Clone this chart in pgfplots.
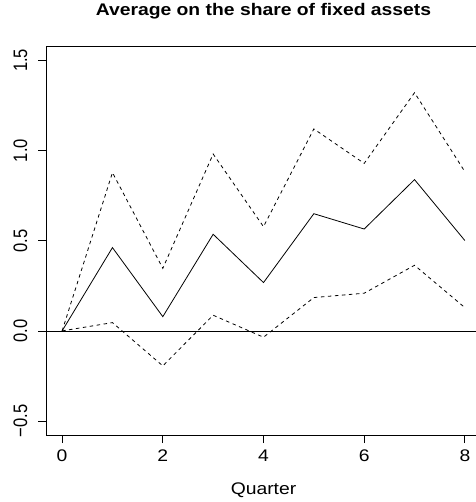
\documentclass[border=0pt]{standalone}
\usepackage{pgfplots}
\pgfplotsset{compat=1.18}
\usepackage{fontspec}
\setmainfont{Liberation Sans}
\newfontfamily\hfont[FakeStretch=1.15]{Liberation Sans}
\newfontfamily\vfont[FakeStretch=0.85]{Liberation Sans}
\begin{document}
\hfont\fontsize{16.8bp}{20bp}\selectfont
\begin{tikzpicture}
\useasboundingbox (0,0) rectangle (476bp,502bp);
\clip (0,0) rectangle (476bp,502bp);
\begin{axis}[
  at={(46bp,66.5bp)}, anchor=south west,
  scale only axis, width=435bp, height=389.5bp,
  xmin=-0.32, xmax=8.32, ymin=-0.58, ymax=1.58,
  xtick={0,2,4,6,8}, xticklabels={0,2,4,6,8},
  ytick={-0.5,0,0.5,1,1.5}, yticklabels={−0.5,0.0,0.5,1.0,1.5},
  tick align=outside, major tick length=7.5bp,
  tick style={black, line width=0.8bp},
  axis line style={line width=0.8bp},
  xtick pos=left, ytick pos=left,
  yticklabel style={xshift=-11bp, rotate=90, anchor=south, inner sep=0pt, font=\vfont\fontsize{19.5bp}{23bp}\selectfont},
  xticklabel style={anchor=north, inner sep=0pt, yshift=-7bp, font=\hfont\fontsize{16.8bp}{20bp}\selectfont},
  title={\bfseries Average on the share of fixed assets},
  title style={at={(axis description cs:0.5,1)}, anchor=base, yshift=25bp, inner sep=0pt, font=\hfont\fontsize{16.8bp}{20bp}\selectfont},
  xlabel={Quarter},
  xlabel style={at={(axis description cs:0.5,0)}, anchor=base, yshift=-58.5bp, inner sep=0pt, font=\hfont\fontsize{16.8bp}{20bp}\selectfont},
]
\addplot[black, line width=0.8bp] coordinates {(-0.32,0) (8.32,0)};
\addplot[black, line width=0.8bp] coordinates {
(0,0) (1,0.462) (2,0.079) (3,0.536) (4,0.268) (5,0.650) (6,0.565) (7,0.839) (8,0.501)};
\addplot[black, line width=0.8bp, dash pattern=on 3.5bp off 3.5bp] coordinates {
(0,0) (1,0.878) (2,0.347) (3,0.981) (4,0.578) (5,1.120) (6,0.929) (7,1.321) (8,0.883)};
\addplot[black, line width=0.8bp, dash pattern=on 3.5bp off 3.5bp] coordinates {
(0,0) (1,0.046) (2,-0.194) (3,0.087) (4,-0.035) (5,0.185) (6,0.209) (7,0.364) (8,0.129)};
\end{axis}
\end{tikzpicture}
\end{document}
